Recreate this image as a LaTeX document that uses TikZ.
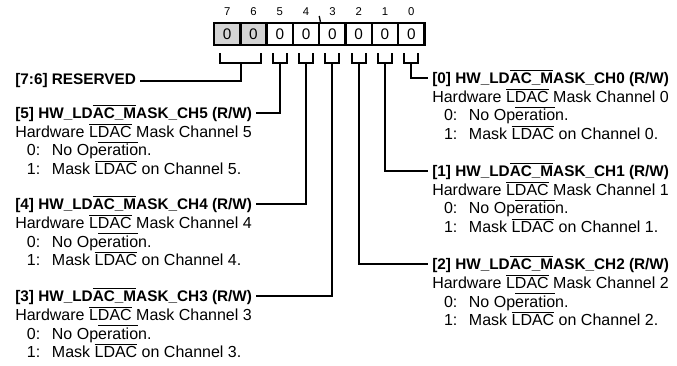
\documentclass[tikz,border=0pt]{standalone}
\usepackage{fontspec}
\setmainfont{Liberation Sans}
\usepackage{tikz}
\usetikzlibrary{positioning, calc}
\definecolor{resgray}{HTML}{D4D4D4}
\newcommand{\notbar}[1]{\setbox0=\hbox{#1}\rlap{\rule[9.6pt]{\wd0}{0.7pt}}\box0\relax}
\newcommand{\optline}[2]{\makebox[27.5pt][l]{\hspace*{8.8pt}#1:}#2}
\tikzset{
	regnode/.style={
			shape=rectangle,
			draw=black,
			line width=1.8pt,
			fill=white,
			minimum height=16.5pt,
			minimum width=19.7pt,
			inner sep=0pt,
			font=\fontsize{11.5}{13}\selectfont
		},
	resnode/.style={
			regnode,
			fill=resgray
		},
	bitlabel/.style={
			inner sep=0pt,
			font=\fontsize{8.5}{10}\selectfont
		}
}
\tikzset{
	titlenode/.style={
			anchor=west,
			inner sep=3pt,
			font=\fontsize{11.5}{13.9}\selectfont\bfseries
		},
	descnode/.style={
			align=left,
			inner xsep=3pt,
			inner ysep=0pt,
			font=\fontsize{12}{13.9}\selectfont
		},
	conn/.style={line width=1.5pt}
}
\begin{document}
\begin{tikzpicture}[x=0.75pt,y=-0.75pt]
\useasboundingbox (0,0) rectangle (677,365);

              \node[bitlabel] (l7) at (227.2,12) {7};
              \node[bitlabel] (l6) at (253.5,12) {6};
              \node[bitlabel] (l5) at (279.8,12) {5};
              \node[bitlabel] (l4) at (306.1,12) {4};
              \node[bitlabel] (l3) at (332.4,12) {3};
              \node[bitlabel] (l2) at (358.7,12) {2};
              \node[bitlabel] (l1) at (385.0,12) {1};
              \node[bitlabel] (l0) at (411.3,12) {0};

              \node[resnode] (m7) at (227.2,34) {0};
              \node[resnode] (m6) at (253.5,34) {0};
              \node[regnode] (m5) at (279.8,34) {0};
              \node[regnode] (m4) at (306.1,34) {0};
              \node[regnode] (m3) at (332.4,34) {0};
              \node[regnode] (m2) at (358.7,34) {0};
              \node[regnode] (m1) at (385.0,34) {0};
              \node[regnode] (m0) at (411.3,34) {0};

              % nibble mark
              \draw[line width=1pt] (319.2,16) -- (m4.north east);

              % brackets under the bits
              \draw[conn] (220,53) |- (261,63) -- (261,53);
              \draw[conn] (272.8,53) |- (286.8,63) -- (286.8,53);
              \draw[conn] (299.1,53) |- (313.1,63) -- (313.1,53);
              \draw[conn] (325.4,53) |- (339.4,63) -- (339.4,53);
              \draw[conn] (351.7,53) |- (365.7,63) -- (365.7,53);
              \draw[conn] (378.0,53) |- (392.0,63) -- (392.0,53);
              \draw[conn] (404.3,53) |- (418.3,63) -- (418.3,53);

              \coordinate (s76) at (240.6,63);
              \coordinate (s5) at (279.8,63);
              \coordinate (s4) at (306.1,63);
              \coordinate (s3) at (332.4,63);
              \coordinate (s2) at (358.7,63);
              \coordinate (s1) at (385.0,63);
              \coordinate (s0) at (411.3,63);

              % left side fields
              \node[titlenode] (t76) at (11,81) {[7:6] RESERVED};
              \node[titlenode] (t5) at (11,113) {[5] HW\_LD\notbar{AC\_M}ASK\_CH5 (R/W)};
              \node[titlenode] (t4) at (11,204) {[4] HW\_LD\notbar{AC\_M}ASK\_CH4 (R/W)};
              \node[titlenode] (t3) at (11,296) {[3] HW\_LD\notbar{AC\_M}ASK\_CH3 (R/W)};

              \node[descnode, below right=-1.7pt and 0pt of t5.south west] (d5) {Hardware \notbar{LDAC} Mask Channel 5\\
                \optline{0}{No Op\notbar{eratio}n.}\\
                \optline{1}{Mask \notbar{LDAC} on Channel 5.}};
              \node[descnode, below right=-1.7pt and 0pt of t4.south west] (d4) {Hardware \notbar{LDAC} Mask Channel 4\\
                \optline{0}{No Op\notbar{eratio}n.}\\
                \optline{1}{Mask \notbar{LDAC} on Channel 4.}};
              \node[descnode, below right=-1.7pt and 0pt of t3.south west] (d3) {Hardware \notbar{LDAC} Mask Channel 3\\
                \optline{0}{No Op\notbar{eratio}n.}\\
                \optline{1}{Mask \notbar{LDAC} on Channel 3.}};

              % right side fields
              \node[titlenode] (t0) at (428,78) {[0] HW\_LD\notbar{AC\_M}ASK\_CH0 (R/W)};
              \node[titlenode] (t1) at (428,171) {[1] HW\_LD\notbar{AC\_M}ASK\_CH1 (R/W)};
              \node[titlenode] (t2) at (428,264) {[2] HW\_LD\notbar{AC\_M}ASK\_CH2 (R/W)};

              \node[descnode, below right=-1.7pt and 0pt of t0.south west] (d0) {Hardware \notbar{LDAC} Mask Channel 0\\
                \optline{0}{No Op\notbar{eratio}n.}\\
                \optline{1}{Mask \notbar{LDAC} on Channel 0.}};
              \node[descnode, below right=-1.7pt and 0pt of t1.south west] (d1) {Hardware \notbar{LDAC} Mask Channel 1\\
                \optline{0}{No Op\notbar{eratio}n.}\\
                \optline{1}{Mask \notbar{LDAC} on Channel 1.}};
              \node[descnode, below right=-1.7pt and 0pt of t2.south west] (d2) {Hardware \notbar{LDAC} Mask Channel 2\\
                \optline{0}{No Op\notbar{eratio}n.}\\
                \optline{1}{Mask \notbar{LDAC} on Channel 2.}};

              % connectors
              \draw[conn] (s76) |- (t76.east);
              \draw[conn] (s5) |- (t5.east);
              \draw[conn] (s4) |- (t4.east);
              \draw[conn] (s3) |- (t3.east);
              \draw[conn] (s2) |- (t2.west);
              \draw[conn] (s1) |- (t1.west);
              \draw[conn] (s0) |- (t0.west);

            \end{tikzpicture}
\end{document}
